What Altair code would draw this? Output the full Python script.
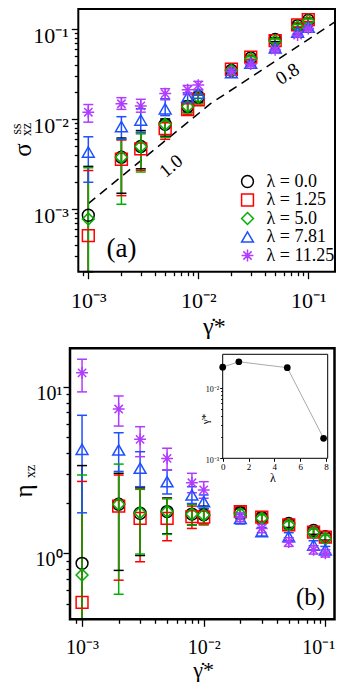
import altair as alt
import pandas as pd

FONT = "Liberation Serif"

# ---------------- data ----------------
GAMMA = [0.001, 0.002, 0.003, 0.005, 0.008, 0.01, 0.02, 0.03, 0.05, 0.08, 0.1]
LABELS = ["λ = 0.0", "λ = 1.25", "λ = 5.0", "λ = 7.81", "λ = 11.25"]
COLORS = ["#000000", "#ff0000", "#00b000", "#1f4fff", "#b03cff"]
STAR = "M0,-1L0,1M-1,0L1,0M-0.7,-0.7L0.7,0.7M-0.7,0.7L0.7,-0.7"
SHAPES = ["circle", "square", "diamond", "triangle-up", STAR]

SIG_00 = [0.00086, 0.0038, 0.0050, 0.0088, 0.0139, 0.0177, 0.035, 0.048, 0.077, 0.110, 0.126]
SIG_125 = [0.00051, 0.0036, 0.0047, 0.0079, 0.0128, 0.0165, 0.036, 0.049, 0.075, 0.112, 0.128]
SIG_50 = [0.00078, 0.0038, 0.0050, 0.0088, 0.0139, 0.0177, 0.035, 0.047, 0.074, 0.107, 0.124]
SIG_781 = [0.00433, 0.0083, 0.0098, 0.0131, 0.0177, 0.0196, 0.033, 0.042, 0.062, 0.093, 0.106]
SIG_1125 = [0.0120, 0.0149, 0.0141, 0.0193, 0.0213, 0.024, 0.034, 0.041, 0.059, 0.086, 0.102]

SIG_LO_00 = [0.0001, 0.00151, 0.00282, 0.0065, 0.0120, 0.0155, 0.0330, 0.0460, 0.073, 0.105, 0.120]
SIG_HI_00 = [0.0030, 0.0062, 0.0075, 0.0101, 0.0160, 0.0200, 0.0372, 0.0505, 0.081, 0.116, 0.132]
SIG_LO_125 = [0.0001, 0.00142, 0.00271, 0.0060, 0.0114, 0.0148, 0.0340, 0.0465, 0.071, 0.106, 0.122]
SIG_HI_125 = [0.0027, 0.0059, 0.0071, 0.0098, 0.0154, 0.0185, 0.0380, 0.0515, 0.079, 0.118, 0.134]
SIG_LO_50 = [0.0001, 0.00114, 0.0026, 0.0063, 0.0118, 0.0150, 0.0330, 0.0450, 0.070, 0.102, 0.118]
SIG_HI_50 = [0.0029, 0.0060, 0.0069, 0.0095, 0.0157, 0.0190, 0.0370, 0.0495, 0.078, 0.113, 0.130]
SIG_LO_781 = [0.0020, 0.0060, 0.0072, 0.0110, 0.0160, 0.0185, 0.0312, 0.0400, 0.0590, 0.0880, 0.1010]
SIG_HI_781 = [0.0064, 0.0107, 0.0131, 0.0169, 0.0197, 0.0212, 0.0348, 0.0440, 0.0650, 0.0980, 0.1110]
SIG_LO_1125 = [0.0093, 0.0129, 0.0120, 0.0165, 0.0188, 0.0215, 0.0320, 0.0390, 0.0560, 0.0820, 0.0970]
SIG_HI_1125 = [0.0146, 0.0174, 0.0167, 0.0219, 0.0238, 0.0264, 0.0360, 0.0435, 0.0620, 0.0900, 0.1070]

ETA_00 = [0.871, 1.97, 1.74, 1.78, 1.72, 1.70, 1.75, 1.64, 1.51, 1.37, 1.26]
ETA_125 = [0.508, 1.92, 1.62, 1.62, 1.66, 1.65, 1.78, 1.65, 1.48, 1.34, 1.25]
ETA_50 = [0.741, 1.97, 1.75, 1.78, 1.72, 1.70, 1.72, 1.62, 1.48, 1.33, 1.22]
ETA_781 = [4.21, 4.17, 3.24, 2.69, 2.24, 2.04, 1.62, 1.35, 1.26, 1.12, 1.05]
ETA_1125 = [12.1, 7.34, 4.83, 3.71, 2.65, 2.40, 1.65, 1.41, 1.17, 1.05, 1.00]

ETA_LO_00 = [0.1, 0.79, 0.97, 1.31, 1.48, 1.50, 1.62, 1.55, 1.43, 1.30, 1.20]
ETA_HI_00 = [3.36, 3.02, 2.49, 2.15, 1.98, 1.92, 1.88, 1.73, 1.59, 1.44, 1.32]
ETA_LO_125 = [0.1, 0.69, 0.89, 1.19, 1.41, 1.48, 1.65, 1.55, 1.40, 1.27, 1.19]
ETA_HI_125 = [2.70, 2.95, 2.45, 2.13, 1.92, 1.85, 1.90, 1.74, 1.56, 1.40, 1.31]
ETA_LO_50 = [0.1, 0.568, 0.99, 1.30, 1.48, 1.50, 1.60, 1.52, 1.40, 1.26, 1.16]
ETA_HI_50 = [2.95, 3.43, 2.42, 2.13, 1.96, 1.90, 1.84, 1.70, 1.55, 1.40, 1.28]
ETA_LO_781 = [1.75, 3.10, 2.51, 2.27, 1.99, 1.85, 1.50, 1.27, 1.19, 1.05, 1.00]
ETA_HI_781 = [6.73, 5.29, 4.07, 3.16, 2.51, 2.24, 1.72, 1.43, 1.33, 1.19, 1.10]
ETA_LO_1125 = [9.3, 5.8, 3.8, 3.16, 2.31, 2.14, 1.55, 1.33, 1.10, 0.99, 0.95]
ETA_HI_1125 = [14.6, 8.79, 5.75, 4.27, 3.02, 2.69, 1.75, 1.49, 1.24, 1.11, 1.05]

DASH_X = [0.001, 0.013, 0.175]
DASH_Y = [0.00116, 0.015, 0.121]
SLOPE_LABELS = ["1.0", "0.8"]
PANEL_LABELS = ["(a)", "(b)"]
X_TITLE = "γ̇*"

INSET_LAM = [0.0, 1.25, 5.0, 7.81]
INSET_G = [0.0195, 0.0233, 0.0192, 0.00192]

# tick values
TOP_X_TICKS = [0.0009, 0.001, 0.002, 0.003, 0.004, 0.005, 0.006, 0.007, 0.008, 0.009,
               0.01, 0.02, 0.03, 0.04, 0.05, 0.06, 0.07, 0.08, 0.09, 0.1]
TOP_Y_TICKS = [0.0003, 0.0004, 0.0005, 0.0006, 0.0007, 0.0008, 0.0009,
               0.001, 0.002, 0.003, 0.004, 0.005, 0.006, 0.007, 0.008, 0.009,
               0.01, 0.02, 0.03, 0.04, 0.05, 0.06, 0.07, 0.08, 0.09, 0.1]
BOT_X_TICKS = TOP_X_TICKS
BOT_Y_TICKS = [0.5, 0.6, 0.7, 0.8, 0.9, 1, 2, 3, 4, 5, 6, 7, 8, 9, 10]
IN_X_TICKS = [0, 2, 4, 6, 8]
IN_Y_TICKS = [0.001, 0.002, 0.003, 0.004, 0.005, 0.006, 0.007, 0.008, 0.009, 0.01, 0.02]

# ---------------- tables ----------------
SIG = [SIG_00, SIG_125, SIG_50, SIG_781, SIG_1125]
SIG_LO = [SIG_LO_00, SIG_LO_125, SIG_LO_50, SIG_LO_781, SIG_LO_1125]
SIG_HI = [SIG_HI_00, SIG_HI_125, SIG_HI_50, SIG_HI_781, SIG_HI_1125]
ETA = [ETA_00, ETA_125, ETA_50, ETA_781, ETA_1125]
ETA_LO = [ETA_LO_00, ETA_LO_125, ETA_LO_50, ETA_LO_781, ETA_LO_1125]
ETA_HI = [ETA_HI_00, ETA_HI_125, ETA_HI_50, ETA_HI_781, ETA_HI_1125]

rows_a, rows_b = [], []
for i, lab in enumerate(LABELS):
    for j, g in enumerate(GAMMA):
        rows_a.append(dict(g=g, lab=lab, col=COLORS[i], v=SIG[i][j], lo=SIG_LO[i][j], hi=SIG_HI[i][j]))
        rows_b.append(dict(g=g, lab=lab, col=COLORS[i], v=ETA[i][j], lo=ETA_LO[i][j], hi=ETA_HI[i][j]))
df_a = pd.DataFrame(rows_a)
df_b = pd.DataFrame(rows_b)
df_dash = pd.DataFrame(dict(x=DASH_X, y=DASH_Y))
df_in = pd.DataFrame(dict(lam=INSET_LAM, g=INSET_G))

DEC = "abs(log(datum.value)/LN10 - round(log(datum.value)/LN10)) < 0.001"
SUP = ("replace(replace(replace(replace(replace(toString(round(log(datum.value)/LN10)), '-', '⁻'),"
       " '0', '⁰'), '1', '¹'), '2', '²'), '3', '³')")
LBL = f"{DEC} ? '10' + {SUP} : ''"

# overall canvas (one view holding both panels and the inset)
W, H = 328, 674
# panel frames in canvas pixels: (x0, x1, y0, y1)
FA = (70.3, 327.0, 1.0, 263.7)
FB = (62.0, 326.5, 340.3, 611.3)
FI = (214.7, 319.7, 346.3, 450.3)


def log_axis(values, orient, offset, fs, pad, loff=0, major=7, minor=4):
    return alt.Axis(values=values, orient=orient, offset=offset, labelExpr=LBL,
                    tickSize={"condition": {"test": DEC, "value": major}, "value": minor},
                    tickWidth=1.3, tickColor="black", labelFont=FONT, labelFontSize=fs,
                    labelColor="black", labelPadding=pad, labelOffset=loff, labelOverlap=False,
                    labelFlush=False, labelBound=False, domain=False, grid=False, title=None)


def text_layer(txt, x, y, fs, angle=0, baseline="middle"):
    return alt.Chart(pd.DataFrame(dict(t=[txt]))).mark_text(
        font=FONT, fontSize=fs, angle=angle, align="center", baseline=baseline, color="black"
    ).encode(text="t:N", x=alt.value(x), y=alt.value(y))


def frame_layer(f, sw, fill=False):
    kw = dict(fill="white") if fill else dict(filled=False)
    return alt.Chart(pd.DataFrame(dict(a=[0]))).mark_rect(stroke="black", strokeWidth=sw, **kw).encode(
        x=alt.value(f[0]), x2=alt.value(f[1]), y=alt.value(f[2]), y2=alt.value(f[3]))


def panel(df, xs, ys, xax, yax, legend, extra=()):
    X = lambda f: alt.X(f"{f}:Q", scale=xs, axis=xax)
    Y = lambda f: alt.Y(f"{f}:Q", scale=ys, axis=yax)
    rules = alt.Chart(df).mark_rule(strokeWidth=1.5).encode(
        x=X("g"), y=Y("lo"), y2="hi:Q", color=alt.Color("col:N", scale=None))
    cap_hi = alt.Chart(df).mark_point(shape="M-1,0L1,0", size=100, filled=False, strokeWidth=1.5,
                                      opacity=1).encode(
        x=X("g"), y=Y("hi"), color=alt.Color("col:N", scale=None))
    cap_lo = alt.Chart(df).mark_point(shape="M-1,0L1,0", size=100, filled=False, strokeWidth=1.5,
                                      opacity=1).encode(
        x=X("g"), y=Y("lo"), color=alt.Color("col:N", scale=None))
    pts = alt.Chart(df).mark_point(filled=False, size=140, strokeWidth=1.5, opacity=1).encode(
        x=X("g"), y=Y("v"),
        color=alt.Color("lab:N", scale=alt.Scale(domain=LABELS, range=COLORS), legend=legend),
        shape=alt.Shape("lab:N", scale=alt.Scale(domain=LABELS, range=SHAPES), legend=legend),
    )
    return alt.layer(*extra, rules, cap_hi, cap_lo, pts)


# ---------------- panel (a) ----------------
xs_a = alt.Scale(type="log", domain=[0.000811, 0.1750], nice=False, clamp=True, range=[FA[0], FA[1]])
ys_a = alt.Scale(type="log", domain=[0.000203, 0.1681], nice=False, clamp=True, range=[FA[3], FA[2]])
xax_a = log_axis(TOP_X_TICKS, "bottom", -(H - FA[3]), 22, 12)
yax_a = log_axis(TOP_Y_TICKS, "left", -FA[0], 22, 3, loff=6)
leg = alt.Legend(orient="none", legendX=230.5, legendY=164.5, title=None, labelFont=FONT,
                 labelFontSize=18, labelColor="black", symbolSize=140, symbolStrokeWidth=1.5,
                 rowPadding=0.5, padding=0, labelOffset=10, labelLimit=0)
dash = alt.Chart(df_dash).mark_line(color="black", strokeWidth=1.5, strokeDash=[9, 6]).encode(
    x=alt.X("x:Q", scale=xs_a, axis=xax_a), y=alt.Y("y:Q", scale=ys_a, axis=yax_a))
top = panel(df_a, xs_a, ys_a, xax_a, yax_a, leg, extra=(dash,))

# ---------------- panel (b) ----------------
xs_b = alt.Scale(type="log", domain=[0.000796, 0.1189], nice=False, clamp=True, range=[FB[0], FB[1]])
ys_b = alt.Scale(type="log", domain=[0.402, 16.98], nice=False, clamp=True, range=[FB[3], FB[2]])
xax_b = log_axis(BOT_X_TICKS, "bottom", -(H - FB[3]), 20, 11,
                 loff={"condition": {"test": "datum.value > 0.09", "value": -7}, "value": 0})
yax_b = log_axis(BOT_Y_TICKS, "left", -FB[0], 20, 1, loff=6.5)
bottom = panel(df_b, xs_b, ys_b, xax_b, yax_b, None)

# ---------------- inset ----------------
xs_in = alt.Scale(domain=[0, 8.13], nice=False, zero=False, range=[FI[0], FI[1]])
ys_in = alt.Scale(type="log", domain=[0.001, 0.0297], nice=False, range=[FI[3], FI[2]])
xax_in = alt.Axis(values=IN_X_TICKS, orient="bottom", offset=-(H - FI[3]), tickSize=3, tickColor="black",
                  tickWidth=1, labelFont=FONT, labelFontSize=9, labelColor="black", labelPadding=1,
                  domain=False, grid=False, title=None, labelFlush=False, labelOverlap=False)
yax_in = alt.Axis(values=IN_Y_TICKS, orient="left", offset=-FI[0], labelExpr=LBL,
                  tickSize={"condition": {"test": DEC, "value": 3}, "value": 2}, tickColor="black",
                  tickWidth=1, labelFont=FONT, labelFontSize=8, labelColor="black", labelPadding=1,
                  labelOffset=2, labelOverlap=False, labelFlush=False, domain=False, grid=False,
                  title=None)
line_in = alt.Chart(df_in).mark_line(color="#aaaaaa", strokeWidth=1).encode(
    x=alt.X("lam:Q", scale=xs_in, axis=xax_in), y=alt.Y("g:Q", scale=ys_in, axis=yax_in))
pts_in = alt.Chart(df_in).mark_circle(size=45, color="black", opacity=1).encode(
    x=alt.X("lam:Q", scale=xs_in, axis=xax_in), y=alt.Y("g:Q", scale=ys_in, axis=yax_in))
inset = alt.layer(line_in, pts_in)

# ---------------- texts ----------------
texts = [
    text_layer(SLOPE_LABELS[0], 163, 158, 19, 320),
    text_layer(SLOPE_LABELS[1], 279.5, 66, 19, 327),
    text_layer(PANEL_LABELS[0], 113.5, 241.3, 27),
    text_layer(PANEL_LABELS[1], 302.5, 589.3, 25),
    # y titles
    text_layer("σ", 15.0, 142, 25, 270),
    text_layer("ss", 8.8, 121, 14, 270),
    text_layer("xz", 19.3, 121.5, 14, 270),
    text_layer("η", 15.5, 483, 25, 270),
    text_layer("xz", 23.3, 463.5, 14, 270),
    # x titles
    text_layer(X_TITLE, 206.4, 326, 24, baseline="alphabetic"),
    text_layer(X_TITLE, 195.6, 669, 22, baseline="alphabetic"),
    # inset titles
    text_layer("λ", 265, 470, 12),
    text_layer(X_TITLE, 198, 411, 11, 270),
]

chart = alt.layer(
    top, bottom, frame_layer(FI, 1, fill=True), inset,
    frame_layer(FA, 2), frame_layer(FB, 2.5), *texts,
).resolve_scale(
    x="independent", y="independent", color="independent", shape="independent"
).properties(
    width=W, height=H, padding=0, background="white",
    autosize=alt.AutoSizeParams(type="none"),
).configure_view(stroke=None)

chart.save("out.html", embed_options={"renderer": "svg", "actions": False})
